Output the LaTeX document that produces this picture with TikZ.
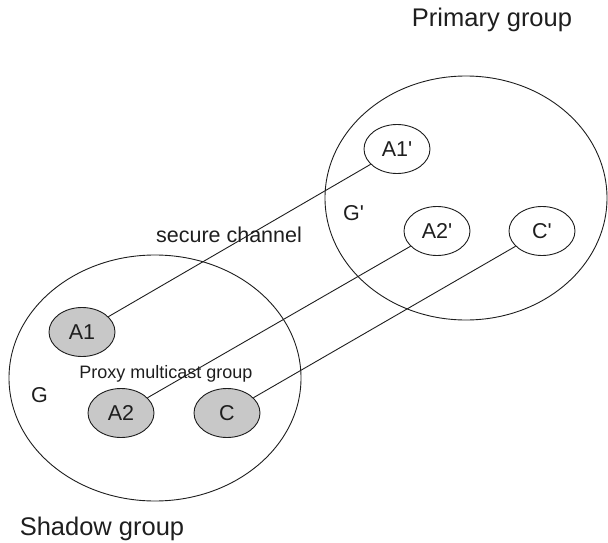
\documentclass[tikz,border=0pt]{standalone}
\usepackage{fontspec}
\setmainfont{Liberation Sans}
\usetikzlibrary{shapes.geometric}
\definecolor{membergray}{RGB}{200,200,200}
\definecolor{ink}{RGB}{30,30,30}
\tikzset{
  group/.style={draw=ink, ellipse, line width=0.9pt, inner sep=0pt},
  member/.style={draw=ink, ellipse, line width=0.9pt, inner sep=0pt,
    minimum width=66pt, minimum height=49pt, font=\fontsize{21.5}{24}\selectfont, text=ink},
  proxy/.style={member, fill=membergray},
  link/.style={draw=ink, line width=0.9pt},
  label/.style={text=ink, inner sep=0pt},
}
\begin{document}
\begin{tikzpicture}[x=1pt, y=-1pt]
\useasboundingbox (0,0) rectangle (608,543);

% the two groups
\node[group, minimum width=292pt, minimum height=246pt] (G) at (155,378) {};
\node[group, minimum width=282pt, minimum height=244pt] (Gp) at (466,198) {};

% shadow group members (proxies)
\node[proxy] (A1) at (82,332) {A1};
\node[proxy] (A2) at (121,413) {A2};
\node[proxy] (C) at (227,413) {C};

% primary group members
\node[member] (A1p) at (397,149) {A1\textquotesingle};
\node[member] (A2p) at (437,231) {A2\textquotesingle};
\node[member] (Cp) at (542,231) {C\textquotesingle};

% secure channels between proxies and members
\draw[link] (A1) -- (A1p);
\draw[link] (A2) -- (A2p);
\draw[link] (C) -- (Cp);

% labels
\node[label, anchor=base, font=\fontsize{25.5}{28}\selectfont] (primary) at (492,27) {Primary group};
\node[label, anchor=base, font=\fontsize{25.5}{28}\selectfont] (shadow) at (102,535) {Shadow group};
\node[label, anchor=base, font=\fontsize{21.5}{24}\selectfont] (secure) at (229,242) {secure channel};
\node[label, anchor=base, font=\fontsize{18}{20}\selectfont] (proxylbl) at (166,378) {Proxy multicast group};
\node[label, anchor=base, font=\fontsize{21.5}{24}\selectfont] (Glbl) at (39.5,402) {G};
\node[label, anchor=base west, font=\fontsize{21.5}{24}\selectfont] (Gplbl) at (343,220) {G\textquotesingle};
\end{tikzpicture}
\end{document}
